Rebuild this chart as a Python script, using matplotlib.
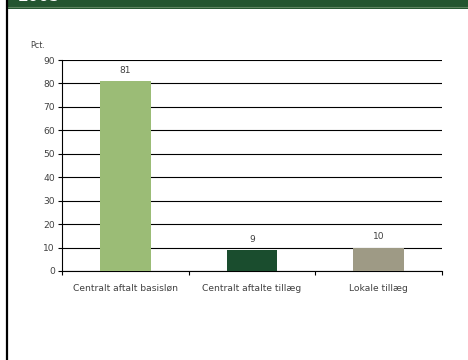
import matplotlib.pyplot as plt
from matplotlib.patches import Rectangle
from matplotlib.lines import Line2D

#======#
# Data #
#======#

categories = ["Centralt aftalt basisløn", "Centralt aftalte tillæg", "Lokale tillæg"]
values = [81, 9, 10]
bar_colors = ["#9BBC76", "#1A4D2E", "#9E9A85"]
y_ticks = [0, 10, 20, 30, 40, 50, 60, 70, 80, 90]

HEADER_COLOR = "#245530"
TEXT_COLOR = "#404040"
W, H = 468, 360

#========#
# Figure #
#========#

fig = plt.figure(figsize=(W / 100, H / 100), dpi=100)
fig.patch.set_facecolor("white")

# slide header band and left border
fig.patches.append(Rectangle((8 / W, 1 - 9 / H), 1, 9 / H, transform=fig.transFigure,
                             facecolor=HEADER_COLOR, edgecolor="none", zorder=0))
fig.lines.append(Line2D([8 / W, 1], [1 - 6.8 / H, 1 - 6.8 / H], transform=fig.transFigure,
                        color="#5E8460", linewidth=0.8))
fig.lines.append(Line2D([7 / W, 7 / W], [0, 1], transform=fig.transFigure,
                        color="black", linewidth=1.6))
fig.text(18 / W, 1 - 1.0 / H, "2005", color="white", fontsize=11, fontweight="bold",
         va="baseline", ha="left")

ax = fig.add_axes([62 / W, 1 - 271 / H, 380 / W, 211 / H])

x = range(len(categories))
bars = ax.bar(x, values, width=0.4, color=bar_colors, zorder=3)

for xi, v in zip(x, values):
    ax.text(xi, v + 3.5, str(v), ha="center", va="baseline", fontsize=6.6, color=TEXT_COLOR)

ax.set_xlim(-0.5, len(categories) - 0.5)
ax.set_ylim(0, 90)
ax.set_yticks(y_ticks)
ax.set_xticks(list(x))
ax.set_xticklabels(categories)
ax.set_xticks([i - 0.5 for i in range(len(categories) + 1)], minor=True)

ax.yaxis.grid(True, color="black", linewidth=0.8, zorder=0)
ax.set_axisbelow(True)

ax.tick_params(axis="x", which="major", length=0, pad=9.5, labelsize=6.6, labelcolor=TEXT_COLOR)
ax.tick_params(axis="x", which="minor", length=3, width=0.8, direction="out")
ax.tick_params(axis="y", length=3, width=0.8, direction="out", pad=2,
               labelsize=6.6, labelcolor=TEXT_COLOR)

for side in ["top", "right"]:
    ax.spines[side].set_visible(False)
for side in ["left", "bottom"]:
    ax.spines[side].set_linewidth(0.8)

fig.text(30 / W, 1 - 45 / H, "Pct.", fontsize=5.8, color=TEXT_COLOR, va="center", ha="left")

fig.savefig("out.png", dpi=100)
